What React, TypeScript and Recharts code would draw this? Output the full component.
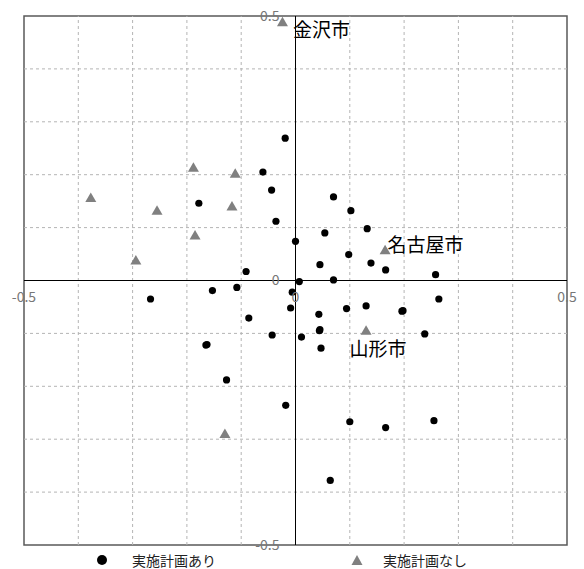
import { ReferenceArea, ReferenceDot, ReferenceLine, Scatter, ScatterChart, XAxis, YAxis, LabelList } from "recharts";

// 実施計画あり (circles)
const ariX = [
	-0.019, -0.06, -0.044, -0.178, -0.036, 0.0, -0.091, -0.108, -0.153, -0.267, -0.086, -0.043, -0.165, -0.163,
	-0.127, -0.018, 0.007, -0.006, -0.009, 0.011, 0.043, 0.044, 0.045, 0.047, 0.094, 0.13, 0.196, 0.198, 0.264,
	0.238, 0.1, 0.166, 0.255, 0.064, 0.07, 0.102, 0.054, 0.132, 0.098, 0.045, 0.139, 0.166, 0.258, 0.07,
];
const ariY = [
	0.269, 0.205, 0.171, 0.146, 0.112, 0.074, 0.017, -0.013, -0.019, -0.035, -0.071, -0.103, -0.122, -0.121,
	-0.188, -0.236, -0.002, -0.022, -0.052, -0.107, -0.064, -0.095, -0.093, -0.128, -0.053, -0.048, -0.058, -0.057,
	-0.035, -0.101, -0.267, -0.278, -0.265, -0.378, 0.158, 0.132, 0.09, 0.098, 0.049, 0.03, 0.033, 0.02, 0.011, 0.001,
];

// 実施計画なし (triangles)
const nashiX = [-0.024, -0.188, -0.111, -0.377, -0.255, -0.117, -0.185, -0.294, 0.165, 0.13, -0.13];
const nashiY = [0.488, 0.213, 0.202, 0.156, 0.132, 0.14, 0.085, 0.038, 0.057, -0.095, -0.29];
const nashiNames = ["金沢市", "", "", "", "", "", "", "", "名古屋市", "山形市", ""];

const gridTicks = [-0.4, -0.3, -0.2, -0.1, 0.1, 0.2, 0.3, 0.4];
const xLabels = [-0.5, 0, 0.5];
const yLabels = [0.5, 0, -0.5];

const ariData = ariX.map((x, i) => ({ x, y: ariY[i] }));
const nashiData = nashiX.map((x, i) => ({ x, y: nashiY[i], name: nashiNames[i] }));

const FONT = "'Noto Sans CJK JP', 'Noto Sans', sans-serif";

const labelShift: Record<string, [number, number]> = {
	金沢市: [15, 11],
	名古屋市: [7, -2],
	山形市: [-12, 21],
};

function Dot(props: any) {
	return <circle cx={props.cx} cy={props.cy} r={3.6} fill='#000' />;
}

function Tri(props: any) {
	const { cx, cy } = props;
	return <polygon points={`${cx},${cy - 5.5} ${cx + 5.5},${cy + 4} ${cx - 5.5},${cy + 4}`} fill='#808080' />;
}

function CityLabel(props: any) {
	const { x, y, value } = props;
	if (!value) return null;
	const [dx, dy] = labelShift[value] || [0, 0];
	return (
		<text x={x + dx} y={y + dy} dominantBaseline='central' fontSize={19} fill='#000' fontFamily={FONT}>
			{value}
		</text>
	);
}

export default function App() {
	return (
		<div style={{ position: "absolute", left: 0, top: 0, width: 584, height: 569, background: "#fff", fontFamily: FONT }}>
			<ScatterChart width={584} height={569} margin={{ top: 16, right: 17, bottom: 24, left: 24 }}>
				<XAxis type='number' dataKey='x' domain={[-0.5, 0.5]} tick={false} axisLine={false} tickLine={false} height={0} />
				<YAxis type='number' dataKey='y' domain={[-0.5, 0.5]} tick={false} axisLine={false} tickLine={false} width={0} />
				{gridTicks.map((t) => (
					<ReferenceLine key={"gx" + t} x={t} stroke='#b4b4b4' strokeDasharray='3 3' />
				))}
				{gridTicks.map((t) => (
					<ReferenceLine key={"gy" + t} y={t} stroke='#b4b4b4' strokeDasharray='3 3' />
				))}
				<ReferenceArea x1={-0.5} x2={0.5} y1={-0.5} y2={0.5} fill='none' stroke='#5a5a5a' strokeWidth={1.5} />
				<ReferenceLine x={0} stroke='#000' strokeWidth={1} />
				<ReferenceLine y={0} stroke='#000' strokeWidth={1} />
				{xLabels.map((v) => (
					<ReferenceDot
						key={"x" + v}
						x={v}
						y={0}
						r={0}
						fill='none'
						stroke='none'
						label={{ value: String(v), position: "bottom", offset: 12, fill: "#777", fontSize: 14, fontFamily: FONT }}
					/>
				))}
				{yLabels.map((v) => (
					<ReferenceDot
						key={"y" + v}
						x={0}
						y={v}
						r={0}
						fill='none'
						stroke='none'
						label={{ value: String(v), position: "left", offset: 16, fill: "#777", fontSize: 14, fontFamily: FONT }}
					/>
				))}
				<Scatter data={ariData} shape={Dot} isAnimationActive={false} />
				<Scatter data={nashiData} shape={Tri} isAnimationActive={false}>
					<LabelList dataKey='name' content={CityLabel} />
				</Scatter>
			</ScatterChart>
			<div style={{ position: "absolute", left: 96, top: 552, height: 16, lineHeight: "16px", display: "flex", alignItems: "center", fontSize: 14, color: "#222" }}>
				<svg width={12} height={12}>
					<circle cx={6} cy={6} r={5} fill='#000' />
				</svg>
				<span style={{ marginLeft: 24 }}>実施計画あり</span>
			</div>
			<div style={{ position: "absolute", left: 351, top: 552, height: 16, lineHeight: "16px", display: "flex", alignItems: "center", fontSize: 14, color: "#222" }}>
				<svg width={12} height={12}>
					<polygon points='6,1 11.5,11 0.5,11' fill='#808080' />
				</svg>
				<span style={{ marginLeft: 20 }}>実施計画なし</span>
			</div>
		</div>
	);
}
